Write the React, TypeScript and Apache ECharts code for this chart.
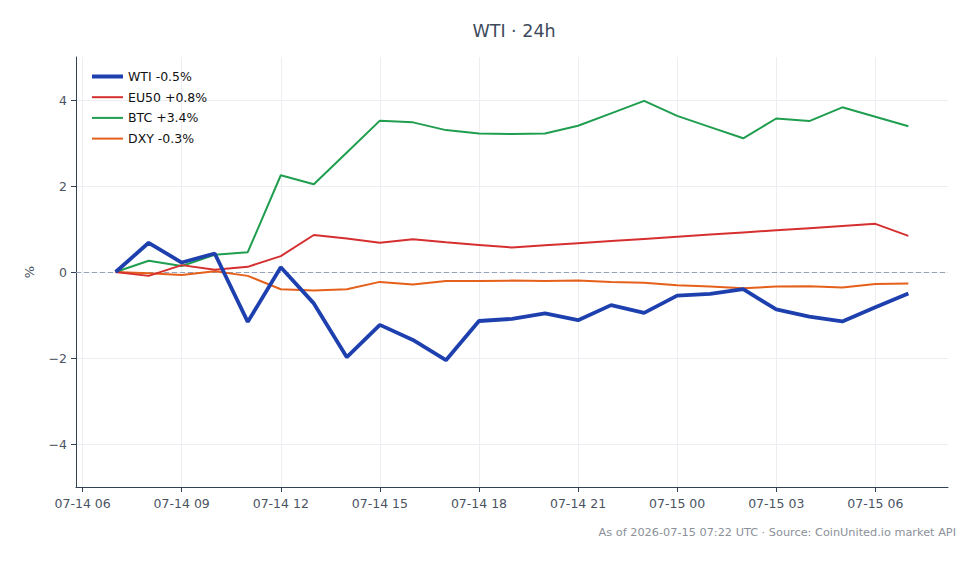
import React, { useEffect, useRef } from "react";
import * as echarts from "echarts";

// Hours since 07-14 00:00 UTC
const HOURS = [7, 8, 9, 10, 11, 12, 13, 14, 15, 16, 17, 18, 19, 20, 21, 22, 23, 24, 25, 26, 27, 28, 29, 30, 31];

// 24h change in percent
const WTI = [0, 0.68, 0.22, 0.43, -1.16, 0.11, -0.73, -1.98, -1.23, -1.58, -2.05, -1.14, -1.09, -0.96, -1.12, -0.77, -0.95, -0.55, -0.51, -0.4, -0.87, -1.04, -1.15, -0.82, -0.5];
const EU50 = [0, -0.09, 0.16, 0.05, 0.12, 0.37, 0.86, 0.78, 0.68, 0.76, 0.69, 0.63, 0.57, 0.62, 0.67, 0.72, 0.77, 0.82, 0.87, 0.92, 0.97, 1.02, 1.07, 1.12, 0.84];
const BTC = [0, 0.26, 0.14, 0.4, 0.46, 2.25, 2.04, 2.78, 3.52, 3.48, 3.3, 3.22, 3.21, 3.22, 3.4, 3.69, 3.98, 3.63, 3.37, 3.11, 3.57, 3.51, 3.83, 3.61, 3.39];
const DXY = [0, -0.03, -0.07, 0.02, -0.09, -0.4, -0.43, -0.4, -0.23, -0.29, -0.21, -0.21, -0.2, -0.21, -0.2, -0.23, -0.25, -0.31, -0.34, -0.38, -0.34, -0.33, -0.36, -0.28, -0.27];

const SERIES_NAMES = ["WTI -0.5%", "EU50 +0.8%", "BTC +3.4%", "DXY -0.3%"];
const COLORS = ["#1e40af", "#d62f2f", "#1f9e4f", "#e5601a"];

const X_TICKS = [6, 9, 12, 15, 18, 21, 24, 27, 30];
const Y_TICKS = [-4, -2, 0, 2, 4];

const FONT = "DejaVu Sans";

const pad = (n: number) => (n < 10 ? "0" + n : String(n));
const fmtHour = (h: number) => {
  const day = 14 + Math.floor(h / 24);
  return `07-${day} ${pad(Math.round(h) % 24)}`;
};

export default function App() {
  const ref = useRef<HTMLDivElement>(null);

  useEffect(() => {
    if (!ref.current) return;
    const chart = echarts.init(ref.current, undefined, { renderer: "svg" });
    const pairs = (vals: number[]) => HOURS.map((h, i) => [h, vals[i]]);
    const all = [WTI, EU50, BTC, DXY];
    const widths = [3.8, 2, 2, 2];

    const series: any[] = all.map((vals, i) => ({
      name: SERIES_NAMES[i],
      type: "line",
      data: pairs(vals),
      symbol: "circle",
      showSymbol: false,
      z: 10 - i,
      lineStyle: { width: widths[i] },
    }));

    // dashed zero reference line
    series.push({
      name: "zero",
      type: "line",
      data: [],
      silent: true,
      z: 1,
      markLine: {
        silent: true,
        symbol: "none",
        label: { show: false },
        lineStyle: { color: "#94a3b8", type: [5, 3], width: 1, opacity: 1 },
        emphasis: { disabled: true },
        data: [{ yAxis: 0 }],
      },
    });

    chart.setOption({
      animation: false,
      backgroundColor: "#ffffff",
      color: COLORS,
      title: {
        text: "WTI · 24h",
        left: 509,
        top: 17,
        textAlign: "center",
        textStyle: { fontFamily: FONT, fontSize: 17.5, fontWeight: "normal", color: "#3e4a5c" },
      },
      graphic: [
        {
          type: "text",
          right: 24,
          top: 527,
          style: {
            text: "As of 2026-07-15 07:22 UTC · Source: CoinUnited.io market API",
            fontFamily: FONT,
            fontSize: 11.3,
            fill: "#8b9099",
          },
        },
      ],
      legend: {
        orient: "vertical",
        left: 85,
        top: 65,
        itemWidth: 31,
        itemHeight: 14,
        itemGap: 7.7,
        itemStyle: { opacity: 0 },
        textStyle: { fontFamily: FONT, fontSize: 12.5, color: "#111111" },
        data: SERIES_NAMES.map((name, i) => ({ name, lineStyle: { width: i === 0 ? 4 : 2 } })),
      },
      grid: { left: 76, right: 32, top: 57, bottom: 77, containLabel: false },
      xAxis: {
        type: "value",
        min: 5.8,
        max: 32.2,
        axisLine: { show: true, onZero: false, lineStyle: { color: "#334155", width: 1 } },
        axisTick: { show: true, length: 5, customValues: X_TICKS, lineStyle: { color: "#334155" } },
        axisLabel: {
          customValues: X_TICKS,
          formatter: (v: number) => fmtHour(v),
          fontFamily: FONT,
          fontSize: 12.5,
          color: "#4a5363",
          margin: 10,
        },
        splitLine: { show: true, lineStyle: { color: "#eceef1", width: 1 } },
      },
      yAxis: {
        type: "value",
        min: -5,
        max: 5,
        name: "%",
        nameLocation: "middle",
        nameGap: 40,
        nameTextStyle: { fontFamily: FONT, fontSize: 13, color: "#4a5363" },
        axisLine: { show: true, onZero: false, lineStyle: { color: "#334155", width: 1 } },
        axisTick: { show: true, length: 5, customValues: Y_TICKS, lineStyle: { color: "#334155" } },
        axisLabel: {
          customValues: Y_TICKS,
          formatter: (v: number) => String(v).replace("-", "\u2212"),
          fontFamily: FONT,
          fontSize: 12.5,
          color: "#4a5363",
          margin: 9,
        },
        splitLine: { show: true, lineStyle: { color: "#eceef1", width: 1 } },
      },
      series,
    });

    return () => chart.dispose();
  }, []);

  return (
    <div
      ref={ref}
      style={{ position: "fixed", left: 0, top: 0, width: 980, height: 564 }}
    />
  );
}
